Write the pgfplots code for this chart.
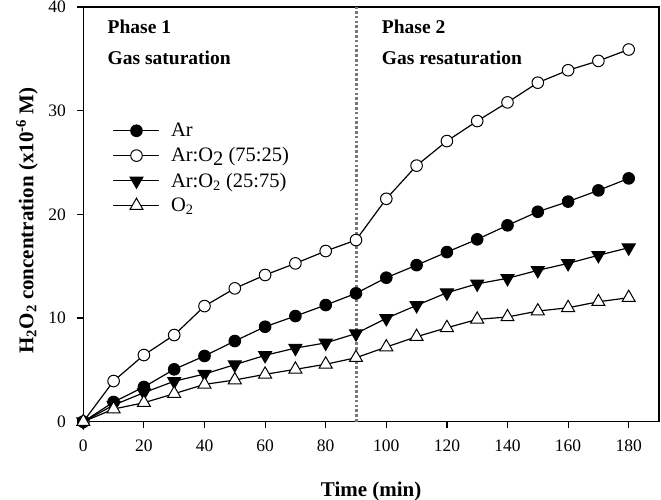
\documentclass[border=0pt]{standalone}
\usepackage{fontspec}
\setmainfont{Liberation Serif}
\usepackage{pgfplots}
\pgfplotsset{compat=1.18}
\usetikzlibrary{calc}
\begin{document}
\begin{tikzpicture}
\begin{axis}[
  name=ax,
  scale only axis,
  width=575.7bp, height=414.7bp,
  xmin=0, xmax=190, ymin=0, ymax=40,
  xtick={0,20,...,180}, ytick={0,10,...,40},
  xtick pos=bottom, ytick pos=left,
  tick align=outside,
  major tick length=6bp,
  axis line style={line width=1.5bp},
  every tick/.style={black, line width=1.2bp},
  /pgf/number format/assume math mode=true,
  ticklabel style={font=\fontsize{17.5bp}{20bp}\selectfont},
  xticklabel style={yshift=-9bp},
  yticklabel style={xshift=-8bp},
  xlabel={\textbf{Time (min)}},
  ylabel={\textbf{H\textsubscript{2}O\textsubscript{2} concentration (x10\textsuperscript{-6} M)}},
  label style={font=\fontsize{21bp}{24bp}\selectfont},
  xlabel style={at={(axis description cs:0.5,0)}, anchor=base, yshift=-74.3bp},
  ylabel style={at={(axis description cs:-0.0869,0.485)}, anchor=base},
  legend style={draw=none, fill=none, at={(axis cs:9.7,29.0)}, anchor=north west,
     font=\fontsize{20.5bp}{23bp}\selectfont, row sep=5.5bp, column sep=9bp, inner sep=0pt},
  legend cell align=left,
  legend image code/.code={\draw[mark repeat=2,mark phase=2,#1] plot coordinates {(0bp,0bp) (23bp,0bp) (46bp,0bp)};},
  clip=false,
]
\addplot[color={rgb,255:red,120;green,120;blue,120}, line width=3bp, dash pattern=on 2.6bp off 2.2bp, forget plot] coordinates {(90,0) (90,40)};

\addplot[black, line width=1.2bp, mark=*, mark size=5.8bp, mark options={fill=black, line width=1bp}] coordinates {
(0,0) (10,1.9) (20,3.35) (30,5.05) (40,6.34) (50,7.78) (60,9.16) (70,10.19) (80,11.25) (90,12.38)
(100,13.89) (110,15.1) (120,16.36) (130,17.59) (140,18.94) (150,20.25) (160,21.23) (170,22.31) (180,23.47)};
\addlegendentry{Ar}

\addplot[black, line width=1.2bp, mark=*, mark size=5.8bp, mark options={fill=white, line width=1bp}] coordinates {
(0,0) (10,3.92) (20,6.43) (30,8.36) (40,11.15) (50,12.86) (60,14.15) (70,15.27) (80,16.46) (90,17.52)
(100,21.5) (110,24.7) (120,27.07) (130,29.0) (140,30.8) (150,32.7) (160,33.9) (170,34.8) (180,35.9)};
\addlegendentry{Ar:O\raisebox{-0.35ex}{2} (75:25)}

\addplot[black, line width=1.2bp, mark=triangle*, mark size=7.5bp, mark options={fill=black, line width=1bp, rotate=180}] coordinates {
(0,0) (10,1.6) (20,2.8) (30,3.9) (40,4.6) (50,5.5) (60,6.4) (70,7.1) (80,7.6) (90,8.5)
(100,9.97) (110,11.22) (120,12.44) (130,13.3) (140,13.83) (150,14.6) (160,15.27) (170,16.05) (180,16.78)};
\addlegendentry{Ar:O\textsubscript{2} (25:75)}

\addplot[black, line width=1.2bp, mark=triangle*, mark size=7.5bp, mark options={fill=white, line width=1bp}] coordinates {
(0,0) (10,1.22) (20,1.83) (30,2.7) (40,3.6) (50,4.02) (60,4.57) (70,5.05) (80,5.54) (90,6.17)
(100,7.2) (110,8.2) (120,9.06) (130,9.87) (140,10.1) (150,10.67) (160,10.99) (170,11.57) (180,11.96)};
\addlegendentry{O\textsubscript{2}}

\node[anchor=base west, inner sep=0pt, font=\bfseries\fontsize{19.5bp}{22bp}\selectfont] at (axis cs:8,37.4) {Phase 1};
\node[anchor=base west, inner sep=0pt, font=\bfseries\fontsize{19.5bp}{22bp}\selectfont] at (axis cs:8,34.5) {Gas saturation};
\node[anchor=base west, inner sep=0pt, font=\bfseries\fontsize{19.5bp}{22bp}\selectfont] at (axis cs:98.5,37.4) {Phase 2};
\node[anchor=base west, inner sep=0pt, font=\bfseries\fontsize{19.5bp}{22bp}\selectfont] at (axis cs:98.5,34.5) {Gas resaturation};
\end{axis}
\pgfresetboundingbox
\path ($(ax.south west)+(-83.3bp,-78.3bp)$) rectangle ($(ax.north east)+(2bp,7bp)$);
\end{tikzpicture}
\end{document}
